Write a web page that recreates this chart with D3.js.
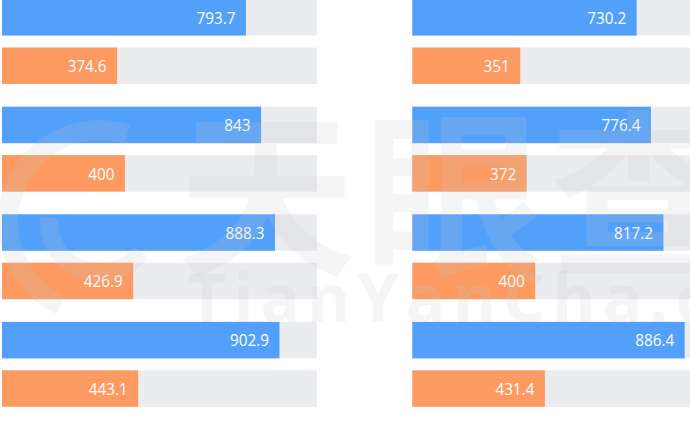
<!DOCTYPE html>
<html>
<head>
<meta charset="utf-8">
<script src="https://cdn.jsdelivr.net/npm/d3@7/dist/d3.min.js"></script>
<style>
  html, body { margin: 0; padding: 0; background: #ffffff; }
  svg { display: block; }
</style>
</head>
<body>
<svg id="chart" width="690" height="423"></svg>
<script>
// ---- data ----
const categories = ["G1", "G2", "G3", "G4"];
const seriesNames = ["blue", "orange"];
const leftBlue = [793.7, 843, 888.3, 902.9];
const leftOrange = [374.6, 400, 426.9, 443.1];
const rightBlue = [730.2, 776.4, 817.2, 886.4];
const rightOrange = [351, 372, 400, 431.4];
const axisMax = 1025;

const colors = { blue: "#52a0fa", orange: "#fd9a61", bg: "#ebecef" };

const svg = d3.select("#chart");

// outer (group) and inner (series) band scales
const y0 = d3.scaleBand().domain(categories)
  .range([-0.9, -0.9 + 107.6 * (4 - 0.211)])
  .paddingInner(0.211).paddingOuter(0);
const y1 = d3.scaleBand().domain(seriesNames)
  .range([0, y0.bandwidth()]).paddingInner(0.247).paddingOuter(0);

const panels = [
  { x0: 2, blue: leftBlue, orange: leftOrange },
  { x0: 412.3, blue: rightBlue, orange: rightOrange }
];

panels.forEach(p => {
  const x = d3.scaleLinear().domain([0, axisMax]).range([p.x0, p.x0 + 315]);
  const rows = [];
  categories.forEach((c, i) => {
    rows.push({ cat: c, s: "blue", v: p.blue[i] });
    rows.push({ cat: c, s: "orange", v: p.orange[i] });
  });
  const g = svg.append("g");
  g.selectAll("rect.bg").data(rows).join("rect")
    .attr("class", "bg")
    .attr("x", x(0))
    .attr("y", d => y0(d.cat) + y1(d.s))
    .attr("width", x(axisMax) - x(0))
    .attr("height", y1.bandwidth())
    .attr("fill", colors.bg);
  g.selectAll("rect.val").data(rows).join("rect")
    .attr("class", "val")
    .attr("x", x(0))
    .attr("y", d => y0(d.cat) + y1(d.s))
    .attr("width", d => x(d.v) - x(0))
    .attr("height", y1.bandwidth())
    .attr("fill", d => colors[d.s]);
  g.selectAll("g.lbl").data(rows).join("g")
    .attr("class", "lbl")
    .attr("transform", d => `translate(${x(d.v) - 10.5},${y0(d.cat) + y1(d.s) + y1.bandwidth() / 2 + 6.2}) scale(0.9,1)`)
    .append("text")
    .attr("text-anchor", "end")
    .attr("font-family", "'Open Sans', 'Noto Sans', sans-serif")
    .attr("font-size", 17)
    .attr("fill", "#ffffff")
    .text(d => d3.format("")(d.v));
});

// ---- watermark ----
const wm = svg.append("g").attr("pointer-events", "none")
  .attr("fill", "rgb(200,200,200)").attr("fill-opacity", 0.18);
const arc = d3.arc();
wm.append("path")
  .attr("transform", "translate(100,222)")
  .attr("d", arc({ innerRadius: 82, outerRadius: 102, startAngle: -2.7, endAngle: 0.3 }));
wm.append("path")
  .attr("transform", "translate(100,222)")
  .attr("d", arc({ innerRadius: 42, outerRadius: 60, startAngle: 2.2, endAngle: 4.8 }));
wm.append("text")
  .attr("x", 178).attr("y", 262)
  .attr("font-family", "'Noto Sans CJK SC', sans-serif")
  .attr("font-weight", 700)
  .attr("font-size", 178)
  .attr("letter-spacing", 8)
  .text("天眼查");
wm.append("text")
  .attr("x", 188).attr("y", 322)
  .attr("font-family", "'Open Sans', sans-serif")
  .attr("font-weight", 700)
  .attr("font-size", 66)
  .attr("letter-spacing", 7)
  .text("TianYanCha.com");
</script>
</body>
</html>
